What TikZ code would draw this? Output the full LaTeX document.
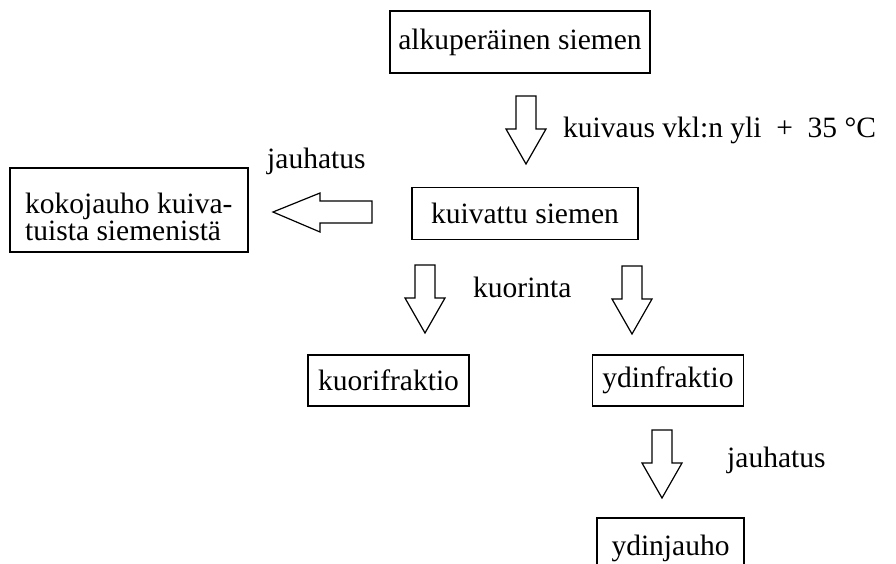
\documentclass[tikz,border=0pt]{standalone}
\usepackage{fontspec}
\setmainfont{Liberation Serif}
\begin{document}
\begin{tikzpicture}[x=1pt,y=-1pt,
  box/.style={draw, line width=1.5pt, inner sep=0pt, font=\fontsize{29.5}{24}\selectfont},
  lbl/.style={inner sep=0pt, anchor=base west, font=\fontsize{29.5}{24}\selectfont},
  blockarrow/.style={draw, line width=1.2pt, fill=white, line join=miter},
  downarr/.pic={\draw[blockarrow] (-10,0) -- (10,0) -- (10,33) -- (20,33) -- (0,68) -- (-20,33) -- (-10,33) -- cycle;}]
\clip (0,0) rectangle (896,563);
\fill[white] (0,0) rectangle (896,563);
% boxes
\node[box, minimum width=260pt, minimum height=62pt] (orig) at (520,42) {alkuperäinen siemen};
\node[box, minimum width=226pt, minimum height=52pt] (dried) at (525,213.5) {kuivattu siemen};
\node[box, minimum width=238pt, minimum height=84pt] (whole) at (129,210) {};
\node[inner sep=0pt, anchor=west, align=left, font=\fontsize{29.5}{24}\selectfont] (wholetxt) at (25,217) {kokojauho kuiva-\\tuista siemenistä};
\node[box, minimum width=161pt, minimum height=51pt] (hull) at (388.5,380.5) {kuorifraktio};
\node[box, minimum width=151pt, minimum height=51pt] (kernel) at (668,380.5) {ydinfraktio};
\node[box, minimum width=147pt, minimum height=60pt] (flour) at (670.5,548) {ydinjauho};
% block arrows
\pic at (526,96) {downarr};
\pic at (425,265) {downarr};
\pic at (632,266) {downarr};
\pic at (662,430) {downarr};
\draw[blockarrow] (372,201) -- (372,223) -- (320,223) -- (320,232) -- (273,212) -- (320,193) -- (320,201) -- cycle;
% labels
\node[lbl] (l1) at (563,137) {kuivaus vkl:n yli\hspace{0.5em}+\hspace{0.5em}35\hspace{0.25em}°C};
\node[lbl] (l2) at (267,168) {jauhatus};
\node[lbl] (l3) at (473,297) {kuorinta};
\node[lbl] (l4) at (727,467) {jauhatus};
\end{tikzpicture}
\end{document}
